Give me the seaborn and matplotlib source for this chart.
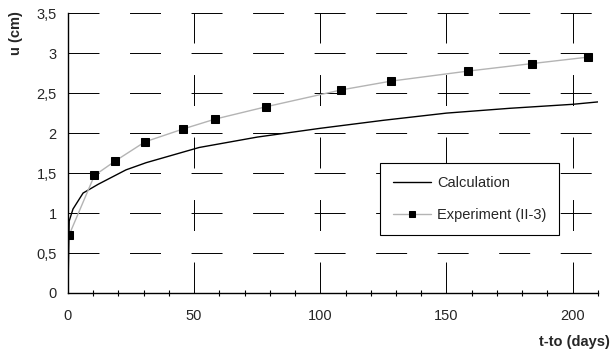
import matplotlib
matplotlib.use('Agg')
import matplotlib.pyplot as plt
import seaborn as sns
import pandas as pd
from matplotlib.ticker import MultipleLocator, FuncFormatter

# Calculation curve (t-to, u)
calc_t = [0, 0.5, 2, 6, 12, 23, 31, 52, 75, 100, 125, 150, 175, 200, 210]
calc_u = [0, 0.9, 1.05, 1.25, 1.36, 1.54, 1.63, 1.82, 1.95, 2.06, 2.16, 2.25, 2.31, 2.36, 2.39]

# Experiment (II-3)
exp_t = [0.4, 10.5, 18.7, 30.5, 45.5, 58.3, 78.6, 108.3, 128, 158.4, 184, 206]
exp_u = [0.72, 1.47, 1.65, 1.89, 2.05, 2.175, 2.33, 2.54, 2.65, 2.775, 2.87, 2.95]

sns.set_style('white')
plt.rcParams['font.family'] = ['Liberation Sans', 'DejaVu Sans']
plt.rcParams['lines.scale_dashes'] = False

df_calc = pd.DataFrame({'t': calc_t, 'u': calc_u})
df_exp = pd.DataFrame({'t': exp_t, 'u': exp_u})

fig = plt.figure(figsize=(6.12, 3.56), dpi=100)
ax = fig.add_axes([0.111, 0.177, 0.866, 0.786])

sns.lineplot(data=df_calc, x='t', y='u', ax=ax, color='black', linewidth=1.0,
             label='Calculation', sort=False)
sns.lineplot(data=df_exp, x='t', y='u', ax=ax, color='#b4b4b4', linewidth=1.0,
             marker='s', markersize=5.5, markerfacecolor='black', markeredgecolor='black',
             label='Experiment (II-3)', sort=False)

ax.set_xlim(0, 210)
ax.set_ylim(0, 3.5)
ax.xaxis.set_major_locator(MultipleLocator(50))
ax.xaxis.set_minor_locator(MultipleLocator(10))
ax.yaxis.set_major_locator(MultipleLocator(0.5))
fmt = FuncFormatter(lambda v, p: ('%g' % v).replace('.', ','))
ax.yaxis.set_major_formatter(fmt)
ax.xaxis.set_major_formatter(fmt)

ax.grid(axis='y', color='black', linewidth=0.7, linestyle=(0, (22.3, 22.0)))
ax.grid(axis='x', color='black', linewidth=0.7, linestyle=(0, (22.3, 22.7)))
ax.set_axisbelow(True)

for s in ['top', 'right']:
    ax.spines[s].set_visible(False)
for s in ['left', 'bottom']:
    ax.spines[s].set_color('black')
    ax.spines[s].set_linewidth(1.0)

ax.tick_params(axis='y', which='major', direction='out', length=4, width=0.8,
               color='black', labelsize=10.5, pad=4)
ax.tick_params(axis='x', which='major', direction='inout', length=7, width=0.8,
               color='black', labelsize=10.5, pad=8)
ax.tick_params(axis='x', which='minor', direction='inout', length=4, width=0.8,
               color='black', bottom=True)

ax.set_xlabel('')
ax.set_ylabel('')
fig.text(0.026, 0.97, 'u (cm)', rotation=90, ha='center', va='top',
         fontsize=10.5, fontweight='bold')
fig.text(0.997, 0.04, 't-to (days)', ha='right', va='center',
         fontsize=10.5, fontweight='bold')

leg = ax.legend(loc='upper left', bbox_to_anchor=(380 / 612, (356 - 163) / 356),
                bbox_transform=fig.transFigure, frameon=True, fancybox=False,
                fontsize=10.5, handlelength=2.6, borderpad=0.9, labelspacing=1.2,
                handletextpad=0.4, borderaxespad=0, markerscale=0.8)
leg.get_frame().set_edgecolor('black')
leg.get_frame().set_linewidth(0.8)
leg.get_frame().set_alpha(1)

fig.savefig('out.png', dpi=100)
